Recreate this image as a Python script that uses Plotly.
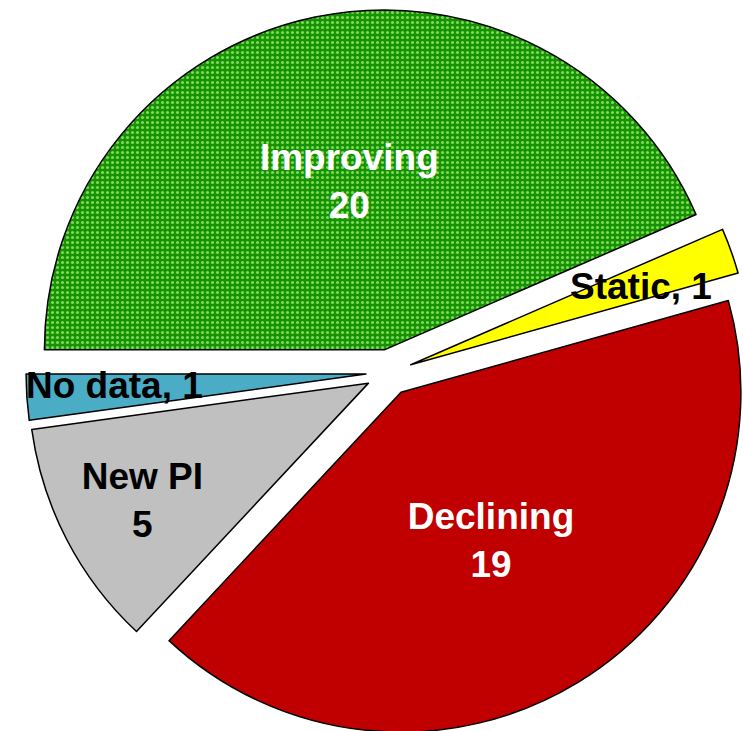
import plotly.graph_objects as go

labels = ["Improving", "Static", "Declining", "New PI", "No data"]
values = [20, 1, 19, 5, 1]
colors = ["#169300", "#FFFF00", "#C00000", "#C0C0C0", "#4BACC6"]
text_colors = ["white", "black", "white", "black", "black"]
inside_label = [True, False, True, True, False]

W, H = 760, 745
FONT = "Liberation Sans"

texts = [f"{l}<br>{v}" if ins else "" for l, v, ins in zip(labels, values, inside_label)]

fig = go.Figure(go.Pie(
    labels=labels,
    values=values,
    sort=False,
    direction="clockwise",
    rotation=-90,
    pull=[0.068] * len(values),
    text=texts,
    textinfo="text",
    textposition="inside",
    insidetextorientation="horizontal",
    textfont=dict(family=FONT, size=37, color=text_colors, weight="bold"),
    marker=dict(
        colors=colors,
        line=dict(color="black", width=1.5),
        pattern=dict(
            shape=[".", "", "", "", ""],
            fgcolor=["#7FD85E", "#FFFF00", "#C00000", "#C0C0C0", "#4BACC6"],
            bgcolor=colors,
            size=5,
            solidity=0.3,
            fillmode="replace",
        ),
    ),
    domain=dict(x=[0.03421, 0.98947], y=[0.01275, 0.98725]),
    showlegend=False,
    hoverinfo="label+value",
))

# small-slice labels, placed beside their slices
ann_pos = {"Static": (0.8434, 0.6148), "No data": (0.1513, 0.4832)}
for l, v, ins in zip(labels, values, inside_label):
    if not ins:
        x, y = ann_pos[l]
        fig.add_annotation(x=x, y=y, xref="paper", yref="paper",
                           xanchor="center", yanchor="middle",
                           text=f"{l}, {v}", showarrow=False,
                           font=dict(family=FONT, size=37, color="black", weight="bold"))

fig.update_layout(
    width=W, height=H,
    margin=dict(l=0, r=0, t=0, b=0),
    paper_bgcolor="white",
    plot_bgcolor="white",
)

fig.write_html("out.html",
               config={"displayModeBar": False},
               post_script="document.body.style.margin='0';document.body.style.overflow='hidden';")
